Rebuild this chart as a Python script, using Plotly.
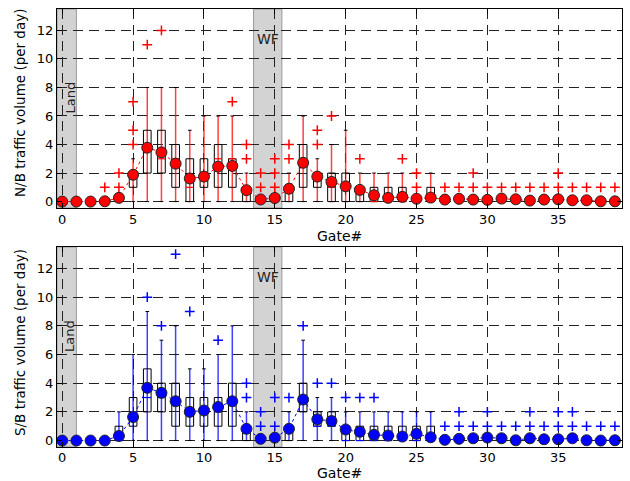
import plotly.graph_objects as go

gates = list(range(40))

# ---------------- N/B (northbound) ----------------
nb_mean = [0, 0, 0, 0.02, 0.26, 1.88, 3.78, 3.45, 2.66, 1.62, 1.75, 2.45, 2.5, 0.8, 0.15, 0.25,
           0.9, 2.72, 1.75, 1.38, 1.07, 0.82, 0.44, 0.26, 0.33, 0.2, 0.28, 0.14, 0.19, 0.14,
           0.12, 0.21, 0.16, 0.07, 0.14, 0.16, 0.09, 0.09, 0.02, 0.02]
nb_q1 = [0, 0, 0, 0, 0, 1, 2, 2, 1, 0, 1, 1, 1, 0, 0, 0, 0, 1, 1, 0,
         0, 0, 0, 0, 0, 0, 0, 0, 0, 0, 0, 0, 0, 0, 0, 0, 0, 0, 0, 0]
nb_q3 = [0, 0, 0, 0, 0, 2, 5, 5, 4, 3, 3, 4, 3, 1, 0, 0, 1, 4, 2, 2,
         2, 1, 1, 1, 1, 0, 1, 0, 0, 0, 0, 0, 0, 0, 0, 0, 0, 0, 0, 0]
nb_med = [0, 0, 0, 0, 0, 2, 4, 3, 3, 1, 2, 3, 3, 1, 0, 0, 1, 3, 2, 1,
          1, 1, 0, 0, 0, 0, 0, 0, 0, 0, 0, 0, 0, 0, 0, 0, 0, 0, 0, 0]
nb_whi = [0, 0, 0, 0, 0, 3, 8, 8, 8, 5, 6, 6, 6, 2, 0, 0, 2, 6, 3, 4,
          5, 2, 2, 2, 2, 0, 2, 0, 0, 0, 0, 0, 0, 0, 0, 0, 0, 0, 0, 0]
nb_out = [[], [], [], [1], [1, 2], [4, 5, 7], [11], [12], [], [], [], [], [7], [3, 4], [1, 2], [1, 2, 3],
          [3, 4], [], [4, 5], [6], [], [3], [], [], [3], [1, 2], [], [1], [1], [1, 2],
          [1], [1], [1], [1], [1], [1, 2], [1], [1], [1], [1]]

# ---------------- S/B (southbound) ----------------
sb_mean = [0, 0, 0, 0, 0.32, 1.64, 3.68, 3.33, 2.74, 2.0, 2.1, 2.34, 2.74, 0.82, 0.12, 0.2,
           0.82, 2.86, 1.48, 1.36, 0.77, 0.61, 0.4, 0.35, 0.28, 0.47, 0.23, 0.05, 0.12, 0.16,
           0.21, 0.16, 0.02, 0.16, 0.09, 0.09, 0.16, 0.02, 0.0, 0.02]
sb_q1 = [0, 0, 0, 0, 0, 1, 2, 2, 1, 1, 1, 1, 1, 0, 0, 0, 0, 2, 1, 1,
         0, 0, 0, 0, 0, 0, 0, 0, 0, 0, 0, 0, 0, 0, 0, 0, 0, 0, 0, 0]
sb_q3 = [0, 0, 0, 0, 1, 3, 5, 4, 4, 3, 3, 3, 4, 1, 0, 0, 1, 4, 2, 2,
         1, 1, 1, 1, 1, 1, 1, 0, 0, 0, 0, 0, 0, 0, 0, 0, 0, 0, 0, 0]
sb_med = [0, 0, 0, 0, 0, 2, 3, 3, 3, 2, 2, 2, 3, 1, 0, 0, 1, 3, 1, 1,
          0, 0, 0, 0, 0, 0, 0, 0, 0, 0, 0, 0, 0, 0, 0, 0, 0, 0, 0, 0]
sb_whi = [0, 0, 0, 0, 2, 6, 9, 7, 8, 5, 5, 6, 8, 2, 0, 0, 2, 7, 3, 3,
          2, 2, 2, 2, 2, 2, 2, 0, 0, 0, 0, 0, 0, 0, 0, 0, 0, 0, 0, 0]
sb_out = [[], [], [], [], [], [], [10], [8], [13], [9], [], [7], [], [3, 4], [1, 2], [1, 3],
          [3], [8], [4], [4], [3], [3], [3], [], [], [], [], [1], [1, 2], [1],
          [1, 2], [1], [1], [1, 2], [1], [1, 2], [1, 2], [1], [1], [1]]

xticks = [0, 5, 10, 15, 20, 25, 30, 35]
yticks = [0, 2, 4, 6, 8, 10, 12]
ylabels = ["N/B traffic volume (per day)", "S/B traffic volume (per day)"]
xlabel = "Gate#"

FONT = "DejaVu Sans"
BW = 0.27   # half box width
CW = 0.13   # half cap width

fig = go.Figure()


def add_panel(mean, q1, q3, med, whi, outl, color, wcolor, xa, ya):
    wx, wy = [], []
    cx, cy = [], []
    bx, by = [], []
    mx, my = [], []
    for g in gates:
        if whi[g] > 0:
            wx += [g, g, None]
            wy += [0, whi[g], None]
            cx += [g - CW, g + CW, None, g - CW, g + CW, None]
            cy += [0, 0, None, whi[g], whi[g], None]
        if q3[g] > q1[g]:
            bx += [g - BW, g + BW, g + BW, g - BW, g - BW, None]
            by += [q1[g], q1[g], q3[g], q3[g], q1[g], None]
            mx += [g - BW, g + BW, None]
            my += [med[g], med[g], None]
    fig.add_trace(go.Scatter(x=wx, y=wy, mode="lines", xaxis=xa, yaxis=ya,
                             line=dict(color=wcolor, width=1.5), hoverinfo="skip"))
    fig.add_trace(go.Scatter(x=cx, y=cy, mode="lines", xaxis=xa, yaxis=ya,
                             line=dict(color="black", width=1), hoverinfo="skip"))
    fig.add_trace(go.Scatter(x=bx, y=by, mode="lines", xaxis=xa, yaxis=ya,
                             line=dict(color="black", width=1), hoverinfo="skip"))
    fig.add_trace(go.Scatter(x=mx, y=my, mode="lines", xaxis=xa, yaxis=ya,
                             line=dict(color=color, width=1.2), hoverinfo="skip"))
    ox, oy = [], []
    for g in gates:
        for v in outl[g]:
            ox.append(g)
            oy.append(v)
    fig.add_trace(go.Scatter(x=ox, y=oy, mode="markers", xaxis=xa, yaxis=ya,
                             marker=dict(symbol="cross-thin", size=7,
                                         line=dict(color=color, width=1.5))))
    fig.add_trace(go.Scatter(x=gates, y=mean, mode="lines+markers", xaxis=xa, yaxis=ya,
                             line=dict(color=color, width=1, dash="dot"),
                             marker=dict(size=11, color=color,
                                         line=dict(color="#222", width=1))))


add_panel(nb_mean, nb_q1, nb_q3, nb_med, nb_whi, nb_out, "#ff0000", "rgba(255,0,0,0.75)", "x", "y")
add_panel(sb_mean, sb_q1, sb_q3, sb_med, sb_whi, sb_out, "#0000ff", "rgba(0,0,255,0.75)", "x2", "y2")

W, H = 630, 481
ML, MR = 57, 8
PW = W - ML - MR
top_dom = [1 - 208 / H, 1 - 9 / H]
bot_dom = [1 - 447 / H, 1 - 247 / H]

axis_common = dict(showline=True, linecolor="black", linewidth=1, mirror="ticks",
                   ticks="inside", ticklen=5, tickcolor="black",
                   showgrid=True, gridcolor="#222", gridwidth=1, griddash="10px,6px",
                   zeroline=False, tickfont=dict(family=FONT, size=13, color="black"))

xr = [-0.37, 39.5]
yr = [-0.45, 13.5]

fig.update_layout(
    width=W, height=H,
    margin=dict(l=ML, r=MR, t=0, b=0),
    paper_bgcolor="white", plot_bgcolor="white",
    showlegend=False,
    xaxis=dict(domain=[0, 1], anchor="y", range=xr, tickvals=xticks, ticklabelstandoff=-1, **axis_common),
    yaxis=dict(domain=top_dom, anchor="x", range=yr, tickvals=yticks, **axis_common),
    xaxis2=dict(domain=[0, 1], anchor="y2", range=xr, tickvals=xticks, ticklabelstandoff=-2, **axis_common),
    yaxis2=dict(domain=bot_dom, anchor="x2", range=yr, tickvals=yticks, **axis_common),
)

shapes = []
for xa, ya in [("x", "y"), ("x2", "y2")]:
    for x0, x1 in [(xr[0], 1), (13.5, 15.5)]:
        shapes.append(dict(type="rect", xref=xa, yref=ya + " domain", x0=x0, x1=x1, y0=0, y1=1,
                           fillcolor="#d3d3d3", line=dict(color="#9a9a9a", width=1), layer="below"))
fig.update_layout(shapes=shapes)

ann = []
for ya in ["y", "y2"]:
    xa = "x" if ya == "y" else "x2"
    ann.append(dict(x=0.55, y=7.3, xref=xa, yref=ya, text="Land", textangle=-90, showarrow=False,
                    xanchor="center", yanchor="middle",
                    font=dict(family=FONT, size=13, color="#222")))
    ann.append(dict(x=14.5, y=11.4, xref=xa, yref=ya, text="WF", showarrow=False,
                    xanchor="center", yanchor="middle",
                    font=dict(family=FONT, size=14, color="#222")))


def px_x(p):
    return (p - ML) / PW


def px_y(p):
    return 1 - p / H


for lab, yc in [(ylabels[0], 103), (ylabels[1], 343)]:
    ann.append(dict(x=px_x(20), y=px_y(yc), xref="paper", yref="paper", text=lab, textangle=-90,
                    xanchor="center", yanchor="middle", showarrow=False,
                    font=dict(family=FONT, size=13.5, color="black")))
for yc in [236, 473]:
    ann.append(dict(x=px_x(339), y=px_y(yc), xref="paper", yref="paper", text=xlabel,
                    xanchor="center", yanchor="middle", showarrow=False,
                    font=dict(family=FONT, size=14, color="black")))
fig.update_layout(annotations=ann)

fig.write_html("out.html")
